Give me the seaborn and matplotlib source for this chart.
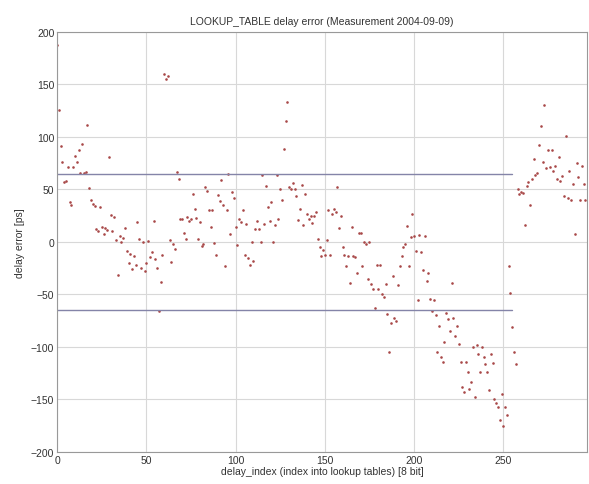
import numpy as np
import pandas as pd
import seaborn as sns
import matplotlib
matplotlib.use("Agg")
from matplotlib import pyplot as plt

# delay error per lookup index
delay_err = [
    188, 126, 91, 76, 57, 58, 71, 38, 35, 71,
    82, 76, 88, 66, 93, 66, 67, 111, 51, 40,
    36, 34, 12, 10, 33, 14, 8, 13, 11, 81,
    26, 10, 24, 2, -31, 6, 0, 4, 13, -9,
    -20, -11, -26, -13, -22, 19, 3, -25, 0, -28,
    -20, 1, -14, -10, 20, -16, -25, -66, -38, -12,
    160, 155, 158, 2, -19, -2, -7, 67, 60, 22,
    22, 9, 3, 24, 20, 22, 46, 31, 23, 3,
    19, -4, -2, 52, 49, 30, 14, 30, -1, -12,
    45, 39, 59, 35, -23, 30, 65, 8, 48, 42,
    14, -3, 22, 19, 30, -12, 17, -15, -22, 0,
    -18, 12, 20, 12, 0, 64, 17, 53, 33, 20,
    38, 0, 16, 64, 22, 50, 40, 89, 115, 133,
    52, 50, 56, 50, 44, 21, 31, 54, 16, 46,
    27, 22, 25, 18, 25, 29, 3, -5, -13, -8,
    -12, 2, 30, -12, 27, 31, 29, 52, 13, 25,
    -5, -12, -23, -13, -39, 14, -13, -14, -30, 9,
    9, -23, 0, -2, -35, 0, -40, -45, -63, -22,
    -45, -22, -50, -52, -40, -69, -105, -77, -32, -72,
    -75, -41, -23, -13, -5, -2, 15, -23, 5, 27,
    6, -9, -55, 7, -10, -27, 6, -37, -30, -54,
    -66, -55, -70, -105, -80, -110, -114, -95, -68, -73,
    -85, -39, -72, -90, -80, -97, -114, -138, -143, -114,
    -124, -140, -133, -100, -148, -98, -107, -124, -100, -110,
    -116, -124, -141, -107, -115, -150, -153, -157, -170, -145,
    -175, -157, -165, -23, -49, -81, -105, -116, 50, 46,
    48, 47, 16, 53, 57, 35, 60, 79, 64, 66,
    92, 110, 76, 130, 70, 88, 71, 88, 68, 72,
    60, 81, 58, 63, 44, 101, 42, 68, 40, 55,
    8, 75, 62, 40, 72, 55, 40,
]
delay_index = list(range(len(delay_err)))

limit_x = [0, 255]
limit_hi = [65, 65]
limit_lo = [-65, -65]

df = pd.DataFrame({"idx": delay_index, "err": delay_err})

sns.set_style("white")
plt.rcParams["font.family"] = ["Liberation Sans", "DejaVu Sans"]

fig = plt.figure(figsize=(5.89, 4.85), dpi=100)
ax = fig.add_axes([0.097, 0.066, 0.9, 0.866])

ax.grid(True, color="#d8d8d8", linewidth=0.8)
ax.set_axisbelow(True)

sns.lineplot(x=limit_x, y=limit_hi, ax=ax, color="#8484a8", linewidth=1.0)
sns.lineplot(x=limit_x, y=limit_lo, ax=ax, color="#8484a8", linewidth=1.0)
sns.scatterplot(data=df, x="idx", y="err", ax=ax, color="#a84848",
                marker=".", s=14, linewidth=0, edgecolor=None)

ax.set_xlim(0, 297)
ax.set_ylim(-200, 200)
ax.set_xticks([0, 50, 100, 150, 200, 250])
ax.set_yticks([-200, -150, -100, -50, 0, 50, 100, 150, 200])
ax.tick_params(direction="in", length=3, labelsize=7.5, colors="#333333", pad=2)
for s in ax.spines.values():
    s.set_color("#999999")
    s.set_linewidth(0.8)

ax.set_title("LOOKUP_TABLE delay error (Measurement 2004-09-09)", fontsize=7.5,
             color="#333333", pad=6)
ax.set_xlabel("delay_index (index into lookup tables) [8 bit]", fontsize=7.5,
              color="#333333", labelpad=1)
ax.set_ylabel("delay error [ps]", fontsize=7.5, color="#333333", labelpad=4)

fig.savefig("out.png", dpi=100)
